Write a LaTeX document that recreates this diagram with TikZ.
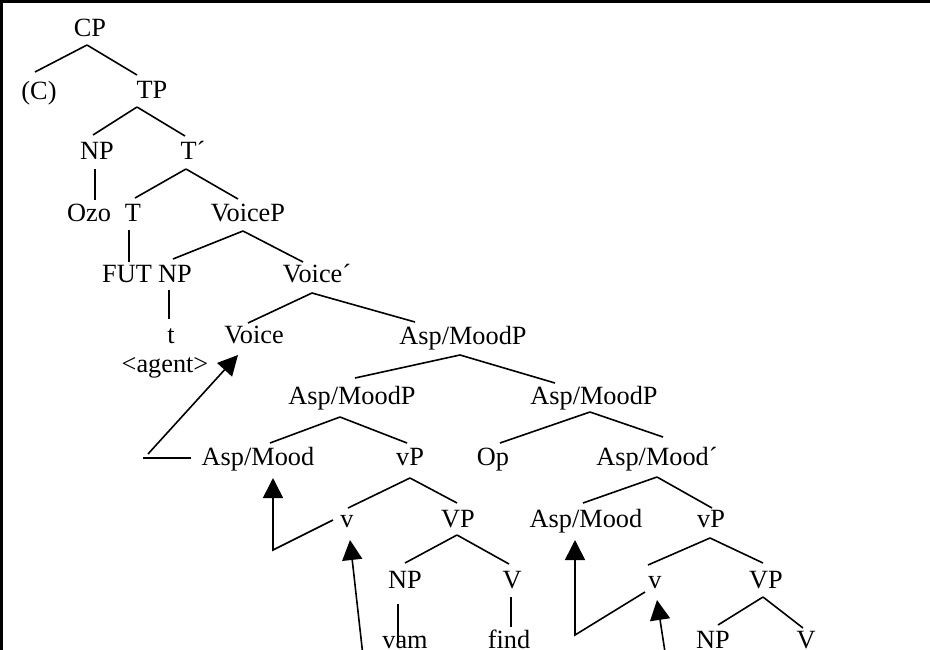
\documentclass[tikz,border=0pt]{standalone}
\usepackage{fontspec}
\setmainfont{Liberation Serif}
\usetikzlibrary{arrows.meta}
\newcommand\treefont{\fontsize{26.3}{30}\selectfont}
\newcommand\edg[4]{\draw[tree] ([shift={#2}]#1.base) -- ([shift={#4}]#3.base);}
\tikzset{
  lbl/.style={anchor=base, inner sep=0pt, font=\treefont},
  tree/.style={line width=1.6pt},
  mv/.style={line width=1.6pt, -{Triangle[length=20pt,width=20pt]}},
}
\begin{document}
\begin{tikzpicture}[x=1pt,y=-1pt]
\useasboundingbox (0,0) rectangle (930,649);
\clip (0,0) rectangle (930,649);
\draw[line width=3pt] (1.5,660) -- (1.5,1.5) -- (940,1.5);
% nodes
\node[lbl] (CP) at (90,36) {CP};
\node[lbl] (C) at (39,99) {(C)};
\node[lbl] (TP) at (152,98) {TP};
\node[lbl] (NP1) at (97,159) {NP};
\node[lbl] (Tb) at (193,159) {T´};
\node[lbl] (Ozo) at (89,221) {Ozo};
\node[lbl] (T) at (133,221) {T};
\node[lbl] (VoiceP) at (248,221) {VoiceP};
\node[lbl] (FUT) at (127,282) {FUT};
\node[lbl] (NP2) at (175,282) {NP};
\node[lbl] (Voiceb) at (317,282) {Voice´};
\node[lbl] (t) at (171,343) {t};
\node[lbl] (Voice) at (254,343) {Voice};
\node[lbl] (AMP1) at (463,344) {Asp/MoodP};
\node[lbl] (agent) at (165,372) {<agent>};
\node[lbl] (AMP2) at (352,404) {Asp/MoodP};
\node[lbl] (AMP3) at (594,404) {Asp/MoodP};
\node[lbl] (AM1) at (258,465) {Asp/Mood};
\node[lbl] (vP1) at (410,465) {vP};
\node[lbl] (Op) at (493,465) {Op};
\node[lbl] (AMb) at (657,465) {Asp/Mood´};
\node[lbl] (v1) at (347,527) {v};
\node[lbl] (VP1) at (458,527) {VP};
\node[lbl] (AM2) at (586,527) {Asp/Mood};
\node[lbl] (vP2) at (711,527) {vP};
\node[lbl] (NP3) at (405,588) {NP};
\node[lbl] (V1) at (512,588) {V};
\node[lbl] (v2) at (655,588) {v};
\node[lbl] (VP2) at (766,588) {VP};
\node[lbl] (vam) at (405,648) {vam};
\node[lbl] (find) at (509,648) {find};
\node[lbl] (NP4) at (713,648) {NP};
\node[lbl] (V2) at (806,648) {V};
% tree edges
\edg{CP}{(-3,9)}{C}{(-4,-27)}
\edg{CP}{(-3,9)}{TP}{(-15,-23)}
\edg{TP}{(-15,9)}{NP1}{(-4,-24)}
\edg{TP}{(-15,9)}{Tb}{(-8,-23)}
\edg{NP1}{(-2,10)}{Ozo}{(6,-21)}
\edg{Tb}{(-7,10)}{T}{(2,-23)}
\edg{Tb}{(-7,10)}{VoiceP}{(-10,-22)}
\edg{T}{(-4,9)}{FUT}{(2,-20)}
\edg{VoiceP}{(-5,10)}{NP2}{(-2,-23)}
\edg{VoiceP}{(-5,10)}{Voiceb}{(-14,-20)}
\edg{NP2}{(-6,8)}{t}{(-2,-24)}
\edg{Voiceb}{(-5,11)}{Voice}{(-6,-20)}
\edg{Voiceb}{(-5,11)}{AMP1}{(-48,-22)}
\edg{AMP1}{(-3,11)}{AMP2}{(3,-26)}
\edg{AMP1}{(-3,11)}{AMP3}{(-39,-21)}
\edg{AMP2}{(-12,13)}{AM1}{(12,-22)}
\edg{AMP2}{(-12,13)}{vP1}{(-3,-22)}
\edg{AMP3}{(-4,8)}{Op}{(7,-22)}
\edg{AMP3}{(-4,8)}{AMb}{(6,-28)}
\edg{AMb}{(0,12)}{AM2}{(-3,-24)}
\edg{AMb}{(0,12)}{vP2}{(1,-19)}
\edg{vP1}{(0,13)}{v1}{(1,-19)}
\edg{vP1}{(0,13)}{VP1}{(-1,-24)}
\edg{vP2}{(-1,11)}{v2}{(-7,-23)}
\edg{vP2}{(-1,11)}{VP2}{(-3,-25)}
\edg{VP1}{(-1,8)}{NP3}{(0,-25)}
\edg{VP1}{(-1,8)}{V1}{(-3,-24)}
\edg{VP2}{(-3,9)}{NP4}{(5,-23)}
\edg{VP2}{(-3,9)}{V2}{(-3,-20)}
\edg{NP3}{(-7,16)}{vam}{(-7,-5)}
\edg{V1}{(-1,9)}{find}{(2,-21)}
% movement arrows
\coordinate (h1) at ([shift={(-115,-7)}]AM1.base);
\draw[tree] ([shift={(-67,-7)}]AM1.base) -- (h1);
\draw[mv] ([shift={(-110,-11)}]AM1.base) -- ([shift={(-16,12)}]Voice.base);
\draw[mv] ([shift={(-14,-7)}]v1.base) -- ([shift={(-74,23)}]v1.base) -- ([shift={(15,13)}]AM1.base);
\coordinate (b1) at (364,665);
\draw[mv] (b1) -- ([shift={(3,13)}]v1.base);
\draw[mv] ([shift={(-10,4)}]v2.base) -- ([shift={(-80,47)}]v2.base) -- ([shift={(-11,13)}]AM2.base);
\coordinate (b2) at (667,665);
\draw[mv] (b2) -- ([shift={(2,12)}]v2.base);
\end{tikzpicture}
\end{document}
